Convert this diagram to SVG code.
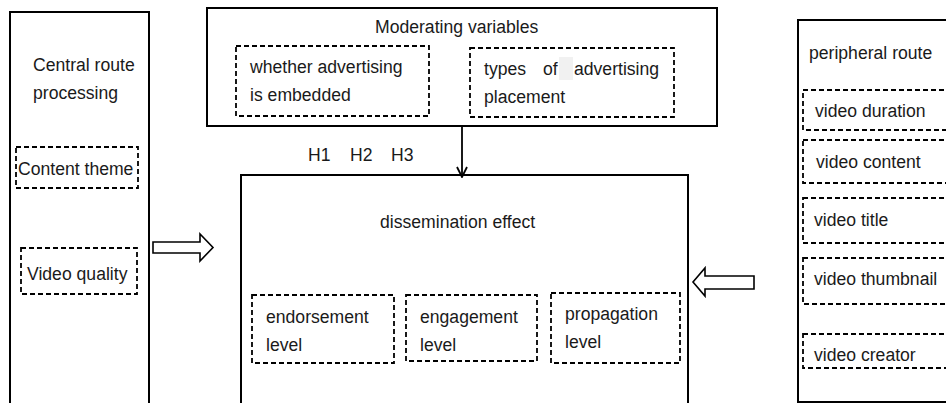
<svg xmlns="http://www.w3.org/2000/svg" width="946" height="403" viewBox="0 0 946 403">
<style>
.box{fill:#fff;stroke:#000;stroke-width:2}
.dash{fill:none;stroke:#000;stroke-width:1.8;stroke-dasharray:5,3}
.t{font-family:"Liberation Sans",Arial,sans-serif;font-size:17.6px;fill:#1a1a1a}
.conn{fill:none;stroke:#000;stroke-width:1.8}
.harrow{fill:#fff;stroke:#000;stroke-width:1.6;stroke-linejoin:miter}
</style>
<defs>
<marker id="vee" viewBox="0 0 12 12" refX="11" refY="6" markerWidth="12" markerHeight="12" markerUnits="userSpaceOnUse" orient="auto">
<path d="M1,1 L11,6 L1,11" fill="none" stroke="#000" stroke-width="1.8"/>
</marker>
</defs>
<rect width="946" height="403" fill="#fff"/>

<g id="central">
<rect class="box" x="10" y="12" width="139" height="400"/>
<text class="t" x="33" y="71">Central route</text>
<text class="t" x="33" y="99">processing</text>
<g id="content-theme">
<rect class="dash" x="16" y="147" width="122" height="41"/>
<text class="t" x="18" y="175">Content theme</text>
</g>
<g id="video-quality">
<rect class="dash" x="21" y="248" width="116" height="46"/>
<text class="t" x="27" y="280">Video quality</text>
</g>
</g>

<g id="moderating">
<rect class="box" x="207" y="8" width="510" height="118"/>
<text class="t" x="375" y="33">Moderating variables</text>
<g id="ad-embedded">
<rect class="dash" x="236" y="46" width="193" height="70"/>
<text class="t" x="250" y="73">whether advertising</text>
<text class="t" x="250" y="101">is embedded</text>
</g>
<g id="ad-type">
<rect class="dash" x="470" y="48" width="204" height="69"/>
<rect x="559" y="57" width="14" height="23" fill="#f1f1f1"/>
<text class="t" x="484" y="75">types</text>
<text class="t" x="543" y="75">of</text>
<text class="t" x="574" y="75">advertising</text>
<text class="t" x="484" y="103">placement</text>
</g>
</g>

<g id="hyp">
<text class="t" x="308" y="161">H1</text>
<text class="t" x="350" y="161">H2</text>
<text class="t" x="391" y="161">H3</text>
</g>

<g id="dissemination">
<rect class="box" x="241" y="175" width="447" height="240"/>
<text class="t" x="380" y="228">dissemination effect</text>
<g id="endorsement">
<rect class="dash" x="252" y="295" width="142" height="68"/>
<text class="t" x="266" y="323">endorsement</text>
<text class="t" x="266" y="351">level</text>
</g>
<g id="engagement">
<rect class="dash" x="406" y="295" width="131" height="66"/>
<text class="t" x="420" y="323">engagement</text>
<text class="t" x="420" y="351">level</text>
</g>
<g id="propagation">
<rect class="dash" x="551" y="293" width="129" height="70"/>
<text class="t" x="565" y="320">propagation</text>
<text class="t" x="565" y="348">level</text>
</g>
</g>

<g id="peripheral">
<rect class="box" x="798" y="20" width="160" height="382"/>
<text class="t" x="809" y="59">peripheral route</text>
<g id="duration">
<rect class="dash" x="803" y="90" width="160" height="40"/>
<text class="t" x="815" y="117">video duration</text>
</g>
<g id="vcontent">
<rect class="dash" x="803" y="140" width="160" height="43"/>
<text class="t" x="816" y="168">video content</text>
</g>
<g id="title">
<rect class="dash" x="803" y="198" width="160" height="45"/>
<text class="t" x="814" y="226">video title</text>
</g>
<g id="thumbnail">
<rect class="dash" x="803" y="258" width="160" height="46"/>
<text class="t" x="814" y="285">video thumbnail</text>
</g>
<g id="creator">
<rect class="dash" x="803" y="334" width="160" height="34"/>
<text class="t" x="814" y="361">video creator</text>
</g>
</g>

<g id="connectors">
<line class="conn" x1="462" y1="126" x2="462" y2="177" marker-end="url(#vee)"/>
<path class="harrow" d="M153,242 L200,242 L200,234 L213,247.5 L200,261 L200,253 L153,253 Z"/>
<path class="harrow" d="M754,276 L705,276 L705,268 L693,282 L705,296 L705,289 L754,289 Z"/>
</g>
</svg>
